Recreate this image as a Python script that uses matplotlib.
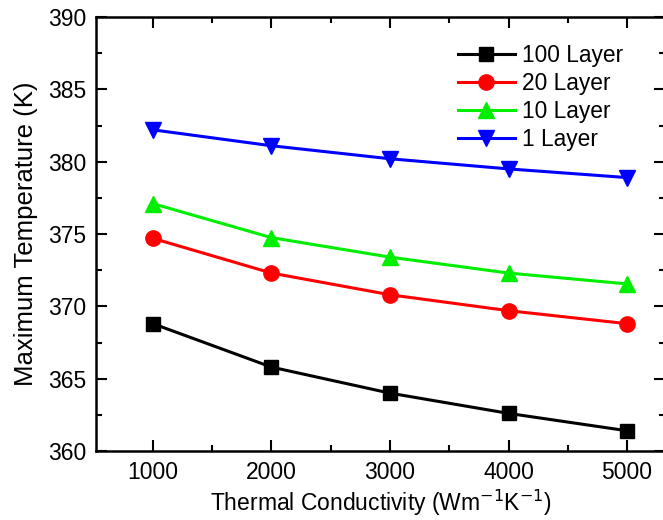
import numpy as np
import matplotlib
matplotlib.use("Agg")
import matplotlib.pyplot as plt
from matplotlib.ticker import MultipleLocator

plt.rcParams['font.family'] = ['Liberation Sans', 'DejaVu Sans']

conductivity = [1000, 2000, 3000, 4000, 5000]
temp_100 = [368.8, 365.8, 364.0, 362.6, 361.4]
temp_20 = [374.7, 372.3, 370.8, 369.7, 368.8]
temp_10 = [377.1, 374.75, 373.4, 372.3, 371.55]
temp_1 = [382.2, 381.1, 380.2, 379.5, 378.9]

labels = ["100 Layer", "20 Layer", "10 Layer", "1 Layer"]
colors = ["black", "red", "#00ee00", "blue"]
markers = ["s", "o", "^", "v"]
msizes = [9.5, 11, 12, 12]

fig = plt.figure(figsize=(6.63, 5.2), dpi=100)
ax = fig.add_axes([96/663, 69/520, 569/663, 434/520])

for y, lab, c, m, ms in zip([temp_100, temp_20, temp_10, temp_1], labels, colors, markers, msizes):
    ax.plot(conductivity, y, color=c, marker=m, markersize=ms, linewidth=2.2, label=lab)

ax.set_xlim(520, 5320)
ax.set_ylim(360, 390)
ax.xaxis.set_major_locator(MultipleLocator(1000))
ax.xaxis.set_minor_locator(MultipleLocator(500))
ax.yaxis.set_major_locator(MultipleLocator(5))
ax.yaxis.set_minor_locator(MultipleLocator(2.5))
ax.tick_params(which='both', direction='in', top=True, right=True, labelsize=16.5, width=1.5)
ax.tick_params(which='major', length=8, pad=7)
ax.tick_params(which='minor', length=4)
for s in ax.spines.values():
    s.set_linewidth(1.8)

ax.set_xlabel("Thermal Conductivity (Wm$^{-1}$K$^{-1}$)", fontsize=16.5, labelpad=3)
ax.set_ylabel("Maximum Temperature (K)", fontsize=18.5, labelpad=7)

ax.legend(loc='upper right', bbox_to_anchor=(0.962, 0.985), frameon=False, fontsize=16.4,
          handlelength=2.5, handletextpad=0.3, labelspacing=0.22)

fig.savefig("out.png", dpi=100)
